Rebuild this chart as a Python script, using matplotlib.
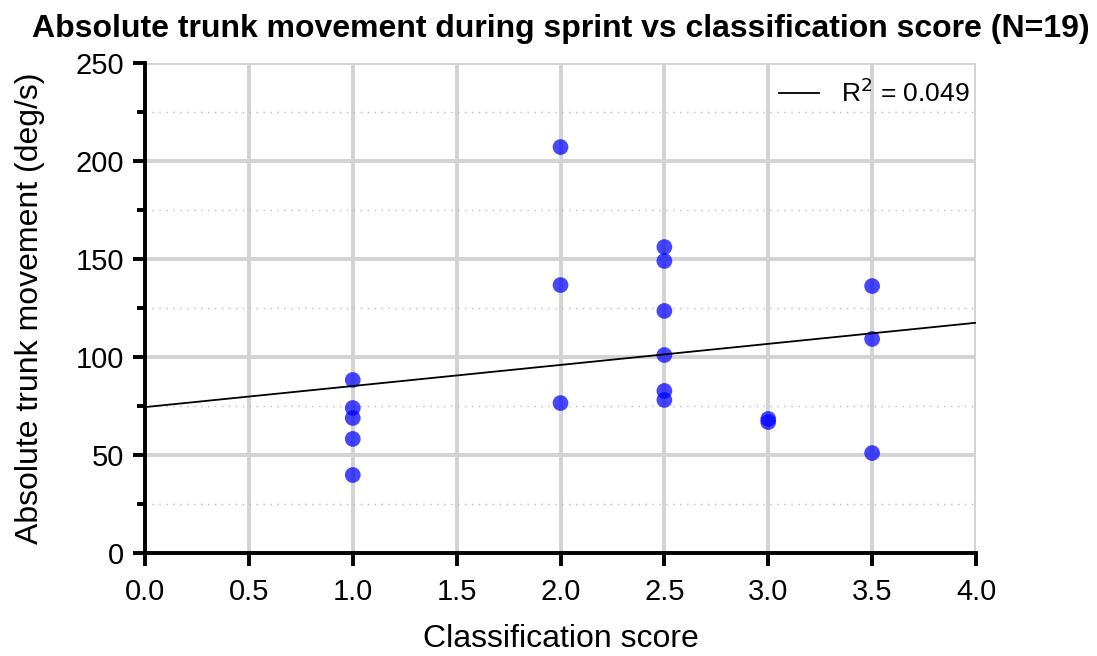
import numpy as np
import matplotlib
matplotlib.use("Agg")
import matplotlib.pyplot as plt
from matplotlib.ticker import MultipleLocator

plt.rcParams['font.family'] = ['Liberation Sans', 'DejaVu Sans']

# classification score per athlete and absolute trunk movement (deg/s)
score = [1.0, 1.0, 1.0, 1.0, 1.0,
         2.0, 2.0, 2.0,
         2.5, 2.5, 2.5, 2.5, 2.5, 2.5,
         3.0, 3.0,
         3.5, 3.5, 3.5]
trunk = [88.3, 74.0, 68.9, 58.2, 39.8,
         207.1, 136.7, 76.5,
         156.1, 149.0, 123.5, 101.0, 82.7, 78.1,
         68.4, 66.8,
         136.2, 109.2, 51.0]
x_ticks = [0.0, 0.5, 1.0, 1.5, 2.0, 2.5, 3.0, 3.5, 4.0]
y_ticks = [0, 50, 100, 150, 200, 250]

x = np.array(score)
y = np.array(trunk)
slope, intercept = np.polyfit(x, y, 1)

fig = plt.figure(figsize=(10.97, 6.56), dpi=100)
ax = fig.add_axes([0.1322, 0.157, 0.7575, 0.747])

ax.scatter(x, y, s=128, color='#0000ff', alpha=0.72, edgecolors='none', zorder=3)
xl = np.array([0.0, 4.0])
ax.plot(xl, intercept + slope * xl, color='black', lw=1.3, zorder=4,
        label='R$^2$ = 0.049')

ax.set_xlim(0, 4)
ax.set_ylim(0, 250)
ax.set_xticks(x_ticks)
ax.set_xticklabels([f'{t:.1f}' for t in x_ticks])
ax.set_yticks(y_ticks)
ax.yaxis.set_minor_locator(MultipleLocator(25))

ax.grid(True, which='major', color='#d3d3d3', lw=2.8, zorder=0)
ax.grid(True, which='minor', axis='y', color='#bbbbbb', lw=1.0,
        linestyle=(0, (1, 4)), zorder=0)
ax.set_axisbelow(True)

for side in ['top', 'right']:
    ax.spines[side].set_visible(False)
for side in ['left', 'bottom']:
    ax.spines[side].set_linewidth(2.8)
ax.tick_params(which='major', direction='out', length=9, width=2.8,
               labelsize=21, pad=6)
ax.tick_params(axis='x', which='major', pad=9)
ax.tick_params(which='minor', direction='out', length=5.5, width=2.8)

ax.set_xlabel('Classification score', fontsize=23, labelpad=13)
ax.set_ylabel('Absolute trunk movement (deg/s)', fontsize=23, labelpad=22)
ax.set_title('Absolute trunk movement during sprint vs classification score (N=19)',
             fontsize=23, fontweight='bold', pad=19)

ax.legend(loc='upper right', bbox_to_anchor=(1.012, 1.0), frameon=False,
          fontsize=19, handlelength=1.5, handletextpad=0.85, borderaxespad=0.2)

fig.savefig('out.png', dpi=100)
